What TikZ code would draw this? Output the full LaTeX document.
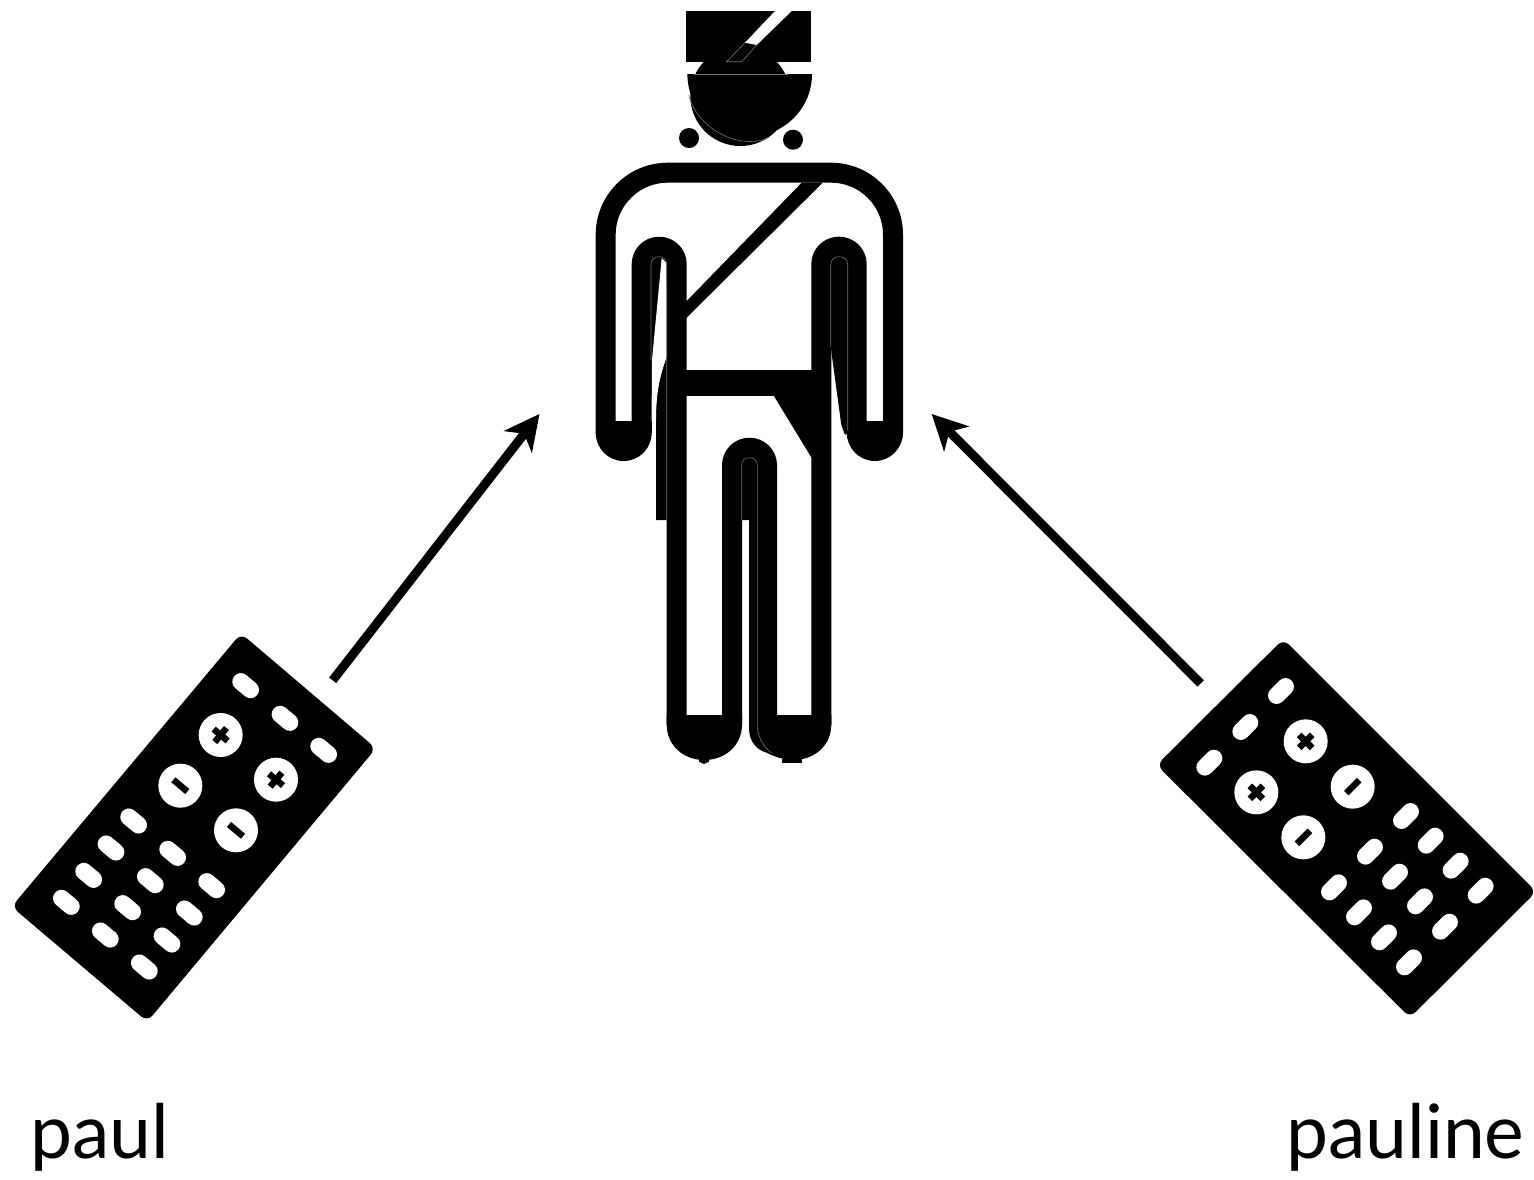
\documentclass[tikz,border=0pt]{standalone}
\usepackage{fontspec}
\setmainfont{Lato}
\usetikzlibrary{arrows.meta}
\tikzset{
  px/.style={x=1pt,y=-1pt},
  limb/.style={draw=black,line width=20pt,rounded corners=17.5pt,line join=round},
  hair/.style={draw=black!55,line width=0.6pt},
  pill/.style={draw=white,line width=17pt,line cap=round},
  signbar/.style={draw=black,line width=6.5pt},
  link/.style={draw=black,line width=9pt,-{Stealth[length=35pt,width=35pt,inset=10pt]}},
  nametext/.style={font=\fontsize{75}{75}\selectfont,inner sep=0pt,anchor=base west},
  zoomleft/.style={shift={(0,620)},x=0.33333pt,y=-0.33333pt},
  zoomright/.style={shift={(1144,630)},x=0.33333pt,y=-0.33333pt}
}
\begin{document}
\begin{tikzpicture}[px]
\useasboundingbox (0,0) rectangle (1534,1179);
% ---------- head and hat
\fill (740.3,96) circle[radius=50pt];
\fill (687.4,74) .. controls (687.4,108.4) and (715.3,136.3) .. (749.7,136.3) .. controls (784.1,136.3) and (812,108.4) .. (812,74) -- cycle;
\fill (686.3,11) rectangle (811,61.7);
\fill[white] (775,11) -- (791.7,11) -- (756.7,45) -- (745,42.7) -- cycle;
\draw[hair] (745,42.7) -- (726.7,61.7) -- (741.7,61.7) -- (756.7,45);
\draw[hair] (694,74) -- (788,74);
\draw[hair] (688.7,95) .. controls (695,122) and (725,142) .. (750,141.5) .. controls (758,141.5) and (765,140) .. (770,136.5);
\fill (689,138) circle[radius=10pt];
\fill (793,139.7) circle[radius=10pt];
% ---------- sash and arm fillings
\fill (666.7,356.7) .. controls (660,375) and (656,392) .. (656,412) -- (656,520) -- (680,520) -- (680,356.7) -- cycle;
\fill[rounded corners=6pt] (651,400) -- (651,256.7) -- (667,256.7) -- (667,280) -- cycle;
\fill[white] (661.7,258) -- (666.7,263) -- (666.7,356.7) .. controls (660,375) and (656,392) .. (656,420) -- (651.7,420) -- (651.7,363) -- cycle;
\fill[rounded corners=7pt] (830.7,347) -- (830.7,256.7) -- (847.7,256.7) -- (847.7,438) -- (842,430) -- cycle;
% ---------- body outline
\draw[draw=black,line width=20pt,rounded corners=62pt] (605.7,433) -- (605.7,172.7) -- (893,172.7) -- (893,433);
\draw[limb] (641.7,433) -- (641.7,246.7) -- (676.7,246.7) -- (676.7,725);
\draw[limb] (856.7,433) -- (856.7,246.7) -- (821.3,246.7) -- (821.3,725);
\draw[limb] (732,725) -- (732,447.7) -- (767,447.7) -- (767,725);
% ---------- strap, belt, hip
\fill (801.7,182.7) -- (822.7,182.7) -- (686,318.3) -- (686,301.7) -- cycle;
\fill (680,370) rectangle (815,395.7);
\fill (773.3,395) -- (815,395) -- (815,462) -- (811.3,457.3) -- cycle;
% ---------- arm ends
\fill (595.7,420.7) rectangle (651.7,433);
\fill (595.7,432.5) .. controls (595.7,448.3) and (608,461) .. (623.7,461) .. controls (639.4,461) and (651.7,448.3) .. (651.7,432.5) -- cycle;
\fill (846.7,420.7) rectangle (903,433);
\fill (846.7,432.5) .. controls (846.7,448.3) and (859.4,461) .. (874.85,461) .. controls (890.3,461) and (903,448.3) .. (903,432.5) -- cycle;
% ---------- crotch and leg ends
\fill (741,520) -- (741,462) -- (758,462) -- (758,725) -- (749,725) -- (749,520) -- cycle;
\fill (742,464) .. controls (742,460) and (745,457) .. (749.5,457) .. controls (754,457) and (757,460) .. (757,464) -- cycle;
\fill (666.7,715) -- (666.7,724.5) .. controls (666.7,745) and (683,760) .. (704.3,760) .. controls (725.6,760) and (742,745) .. (742,724.5) -- (742,715) -- cycle;
\fill (699,759) rectangle (709,762) (700,762) -- (708,762) -- (704,764) -- cycle;
\fill (749,715) -- (749,728) .. controls (749,742) and (757,750) .. (766.7,752.7) .. controls (775,757) and (785,760) .. (793,760) .. controls (815,760) and (831.3,745) .. (831.3,724.5) -- (831.3,715) -- cycle;
\fill (782,759) rectangle (801.7,762.7);
% ---------- hairlines
\draw[hair] (651,360) -- (651,265) .. controls (651,259) and (655,256.7) .. (659,256.7) .. controls (663,256.7) and (666.7,259) .. (666.7,265) -- (666.7,520);
\draw[hair] (830.7,347) -- (830.7,265) .. controls (830.7,259) and (835,256.7) .. (839,256.7) .. controls (844,256.7) and (847.7,259) .. (847.7,265) -- (847.7,430);
\draw[hair] (741.7,520) -- (741.7,465) .. controls (741.7,460) and (745,457.7) .. (749.5,457.7) .. controls (754,457.7) and (757.3,460) .. (757.3,465) -- (757.3,725) .. controls (757.3,735) and (762,746) .. (771.7,753);
% ---------- left remote
\begin{scope}[zoomleft]
\fill[rounded corners=8pt] (723,40) -- (1128,385) -- (442,1205) -- (35,860) -- cycle;
\foreach \x/\y in {737/197,855/295,971/391,401/603,518/700,635/797,333/684,451/782,568/879,266/766,383/863,501/960,199/847,316/945,433/1041}
  \draw[pill] ({\x-14.6},{\y-12.2}) -- ({\x+14.6},{\y+12.2});
\foreach \x/\y in {662/345,828/479,541/497,708/631}
  \fill[white] (\x,\y) circle[radius=22pt];
\foreach \x/\y in {662/345,828/479}{
  \draw[signbar] ({\x-21},{\y-17.6}) -- ({\x+21},{\y+17.6});
  \draw[signbar] ({\x+17.6},{\y-21}) -- ({\x-17.6},{\y+21});}
\foreach \x/\y in {541/497,708/631}
  \draw[signbar] ({\x-21},{\y-17.6}) -- ({\x+21},{\y+17.6});
\coordinate (paulstart) at (998,181);
\end{scope}
% ---------- right remote
\begin{scope}[zoomright]
\fill[rounded corners=8pt] (418,27) -- (1177,785) -- (798,1163) -- (38,405) -- cycle;
\foreach \x/\y in {411/183,304/291,196/398,786/558,678/665,570/772,860/632,753/740,645/847,935/707,828/814,720/922,1010/782,903/890,795/997}
  \draw[pill] ({\x+13.4},{\y-13.4}) -- ({\x-13.4},{\y+13.4});
\foreach \x/\y in {485/334,337/487,626/470,478/622}
  \fill[white] (\x,\y) circle[radius=22pt];
\foreach \x/\y in {485/334,337/487}{
  \draw[signbar] ({\x-19.5},{\y-19.5}) -- ({\x+19.5},{\y+19.5});
  \draw[signbar] ({\x+19.5},{\y-19.5}) -- ({\x-19.5},{\y+19.5});}
\foreach \x/\y in {626/470,478/622}
  \draw[signbar] ({\x+19.5},{\y-19.5}) -- ({\x-19.5},{\y+19.5});
\coordinate (paulinestart) at (170,160);
\end{scope}
% ---------- connectors
\coordinate (figleft) at (539.5,414);
\coordinate (figright) at (931.7,414);
\draw[link] (paulstart) -- (figleft);
\draw[link] (paulinestart) -- (figright);
% ---------- labels
\node[nametext] (paul) at (30,1158) {paul};
\node[nametext] (pauline) at (1286,1158) {pauline};
\end{tikzpicture}
\end{document}
